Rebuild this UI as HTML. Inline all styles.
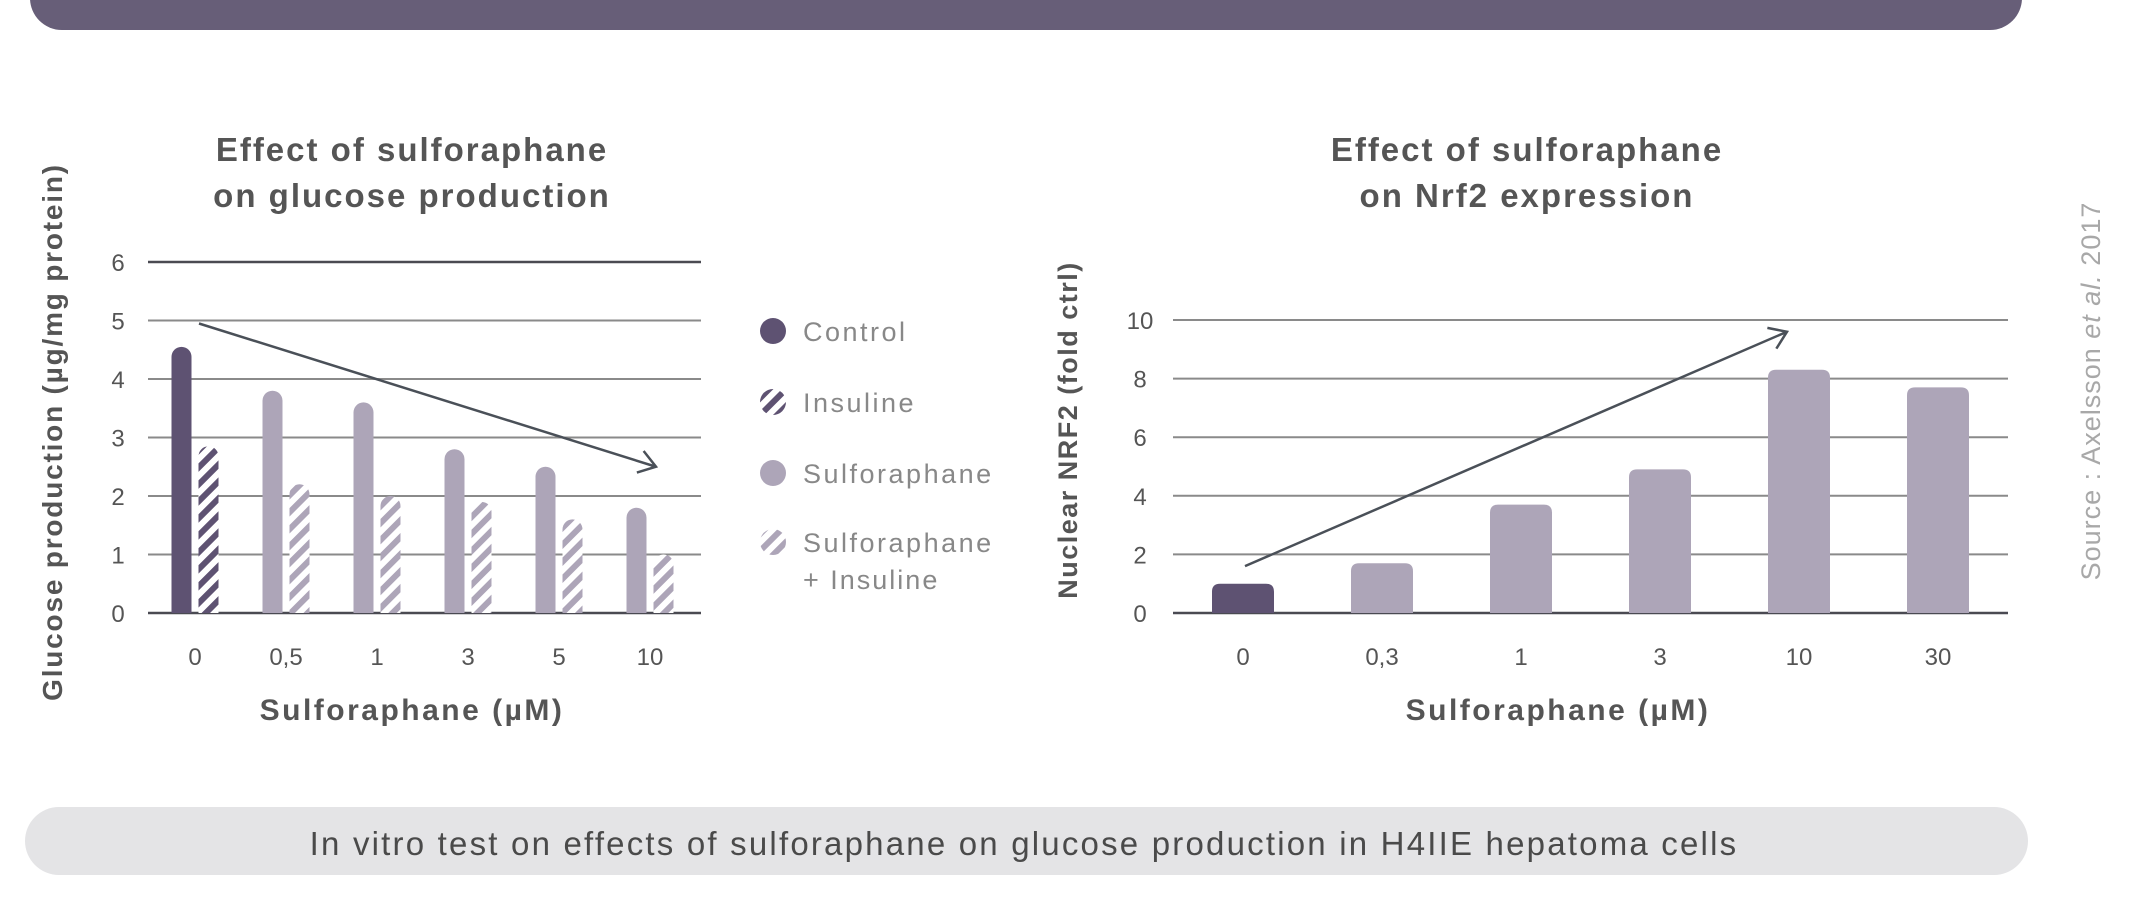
<!DOCTYPE html>
<html><head><meta charset="utf-8">
<style>
html,body{margin:0;padding:0;background:#fff;}
body{width:2152px;height:896px;overflow:hidden;position:relative;font-family:"Liberation Sans",sans-serif;}
svg text{font-family:"Liberation Sans",sans-serif;}
</style></head>
<body>
<svg id="svg" width="2152" height="896" viewBox="0 0 2152 896" xmlns="http://www.w3.org/2000/svg">
<defs>
<pattern id="hatchDark" patternUnits="userSpaceOnUse" width="12" height="12" patternTransform="rotate(45)">
<rect width="12" height="12" fill="#fff"/><rect width="6" height="12" fill="#5e5272"/></pattern>
<pattern id="hatchLight" patternUnits="userSpaceOnUse" width="12" height="12" patternTransform="rotate(45)">
<rect width="12" height="12" fill="#fff"/><rect width="6" height="12" fill="#ada5b8"/></pattern>
</defs>
<rect x="30" y="-40" width="1992" height="70" rx="32" fill="#675e78"/>
<g id="left"></g>
<g id="right"></g>
<text x="2100" y="391" transform="rotate(-90 2100 391)" text-anchor="middle" font-size="27" letter-spacing="1" fill="#a8a8a8">Source : Axelsson <tspan font-style="italic">et al.</tspan> 2017</text>
<rect x="25" y="807" width="2003" height="68" rx="34" fill="#e4e4e6"/>
<text x="1024" y="855" text-anchor="middle" font-size="33" letter-spacing="2.2" fill="#4a4a4a">In vitro test on effects of sulforaphane on glucose production in H4IIE hepatoma cells</text>
</svg>
<script>
const NS="http://www.w3.org/2000/svg";
// Left chart data
const leftCategories=["0","0,5","1","3","5","10"];
const controlValues=[4.55];
const insulineValues=[2.85];
const sulfValues=[3.8,3.6,2.8,2.5,1.8];
const sulfInsValues=[2.2,2.0,1.9,1.6,1.0];
const leftTicks=[0,1,2,3,4,5,6];
// Right chart data
const rightCategories=["0","0,3","1","3","10","30"];
const nrf2Values=[1.0,1.7,3.7,4.9,8.3,7.7];
const rightTicks=[0,2,4,6,8,10];

function el(parent,tag,attrs,text){const e=document.createElementNS(NS,tag);for(const k in attrs)e.setAttribute(k,attrs[k]);if(text!==undefined)e.textContent=text;parent.appendChild(e);return e;}
function barPath(x,w,y0,y1){const r=Math.min(w/2,y0-y1);return `M${x},${y0}L${x},${y1+r}A${r},${r} 0 0 1 ${x+w},${y1+r}L${x+w},${y0}Z`;}
function arrowD(x1,y1,x2,y2){const dx=x2-x1,dy=y2-y1,l=Math.hypot(dx,dy),ux=dx/l,uy=dy/l,h=20,c=Math.cos(0.6),s=Math.sin(0.6);
  const ax=x2-h*(ux*c-uy*s),ay=y2-h*(uy*c+ux*s),bx=x2-h*(ux*c+uy*s),by=y2-h*(uy*c-ux*s);
  return `M${x1},${y1}L${x2},${y2}M${ax},${ay}L${x2},${y2}L${bx},${by}`;}

// LEFT
const L=document.getElementById('left');
const ly=v=>613-v*58.5;
const lx=i=>195+i*91;
leftTicks.forEach(t=>{
  const ln=el(L,'line',{x1:148,x2:701,y1:ly(t),y2:ly(t),stroke:(t===0||t===6)?'#4a4a52':'#8a8a8a','stroke-width':(t===0||t===6)?2.5:2});
  
  const tx=el(L,'text',{x:118,y:ly(t)+9,'text-anchor':'middle','font-size':24,fill:'#555'},String(t));
  
});
leftCategories.forEach((c,i)=>{
  const tx=el(L,'text',{x:lx(i),y:665,'text-anchor':'middle','font-size':24,fill:'#555'},c);
  
});
const bw=20,off=13.5;
controlValues.forEach((v,i)=>{const p=el(L,'path',{d:barPath(lx(i)-off-bw/2,bw,ly(0),ly(v)),fill:'#5e5272'});
  });
insulineValues.forEach((v,i)=>{const p=el(L,'path',{d:barPath(lx(i)+off-bw/2,bw,ly(0),ly(v)),fill:'url(#hatchDark)'});
  });
sulfValues.forEach((v,i)=>{const p=el(L,'path',{d:barPath(lx(i+1)-off-bw/2,bw,ly(0),ly(v)),fill:'#ada5b8'});
  });
sulfInsValues.forEach((v,i)=>{const p=el(L,'path',{d:barPath(lx(i+1)+off-bw/2,bw,ly(0),ly(v)),fill:'url(#hatchLight)'});
  });
let a=el(L,'path',{d:arrowD(199,ly(5)+3,656,ly(2.5)),stroke:'#4a5058','stroke-width':2.5,fill:'none'});

const TS={'text-anchor':'middle','font-size':33,fill:'#555','font-weight':'bold','letter-spacing':2};
let t=el(L,'text',Object.assign({x:412,y:161},TS),'Effect of sulforaphane');

t=el(L,'text',Object.assign({x:412,y:207},TS),'on glucose production');

t=el(L,'text',{x:412,y:720,'text-anchor':'middle','font-size':30,fill:'#555','font-weight':'bold','letter-spacing':2.5},'Sulforaphane (µM)');

t=el(L,'text',{x:62,y:432,'text-anchor':'middle','font-size':28,fill:'#555','font-weight':'bold','letter-spacing':1.8,transform:'rotate(-90 62 432)'},'Glucose production (µg/mg protein)');

const legItems=[['Control','#5e5272',331],['Insuline','url(#hatchDark)',402],['Sulforaphane','#ada5b8',473],['Sulforaphane','url(#hatchLight)',542]];
legItems.forEach(it=>{
  const c=el(L,'circle',{cx:773,cy:it[2],r:13,fill:it[1]});
  
  const tx=el(L,'text',{x:803,y:it[2]+10,'font-size':27,fill:'#888','letter-spacing':2.5},it[0]);
  
});
t=el(L,'text',{x:803,y:589,'font-size':27,fill:'#888','letter-spacing':2},'+ Insuline');


// RIGHT
const R=document.getElementById('right');
const ry=v=>613-v*29.3;
const rx=i=>1243+i*139;
rightTicks.forEach(tk=>{
  const ln=el(R,'line',{x1:1173,x2:2008,y1:ry(tk),y2:ry(tk),stroke:tk===0?'#4a4a52':'#8a8a8a','stroke-width':tk===0?2.5:2});
  
  const tx=el(R,'text',{x:1140,y:ry(tk)+9,'text-anchor':'middle','font-size':24,fill:'#555'},String(tk));
  
});
rightCategories.forEach((c,i)=>{
  const tx=el(R,'text',{x:rx(i),y:665,'text-anchor':'middle','font-size':24,fill:'#555'},c);
  
});
nrf2Values.forEach((v,i)=>{
  const w=62,x0=rx(i)-w/2,x1=rx(i)+w/2,y0=ry(0),y1=ry(v);
  const p=el(R,'path',{d:`M${x0},${y0}L${x0},${y1+8}Q${x0},${y1} ${x0+8},${y1}L${x1-8},${y1}Q${x1},${y1} ${x1},${y1+8}L${x1},${y0}Z`,fill:i===0?'#5e5272':'#ada5b8'});
  
});
a=el(R,'path',{d:arrowD(1245,ry(1.6),1787,ry(9.6)),stroke:'#4a5058','stroke-width':2.5,fill:'none'});

t=el(R,'text',Object.assign({x:1527,y:161},TS),'Effect of sulforaphane');

t=el(R,'text',Object.assign({x:1527,y:207},TS),'on Nrf2 expression');

t=el(R,'text',{x:1558,y:720,'text-anchor':'middle','font-size':30,fill:'#555','font-weight':'bold','letter-spacing':2.5},'Sulforaphane (µM)');

t=el(R,'text',{x:1077,y:430,'text-anchor':'middle','font-size':27,fill:'#555','font-weight':'bold','letter-spacing':1.5,transform:'rotate(-90 1077 430)'},'Nuclear NRF2 (fold ctrl)');

</script>
</body></html>
